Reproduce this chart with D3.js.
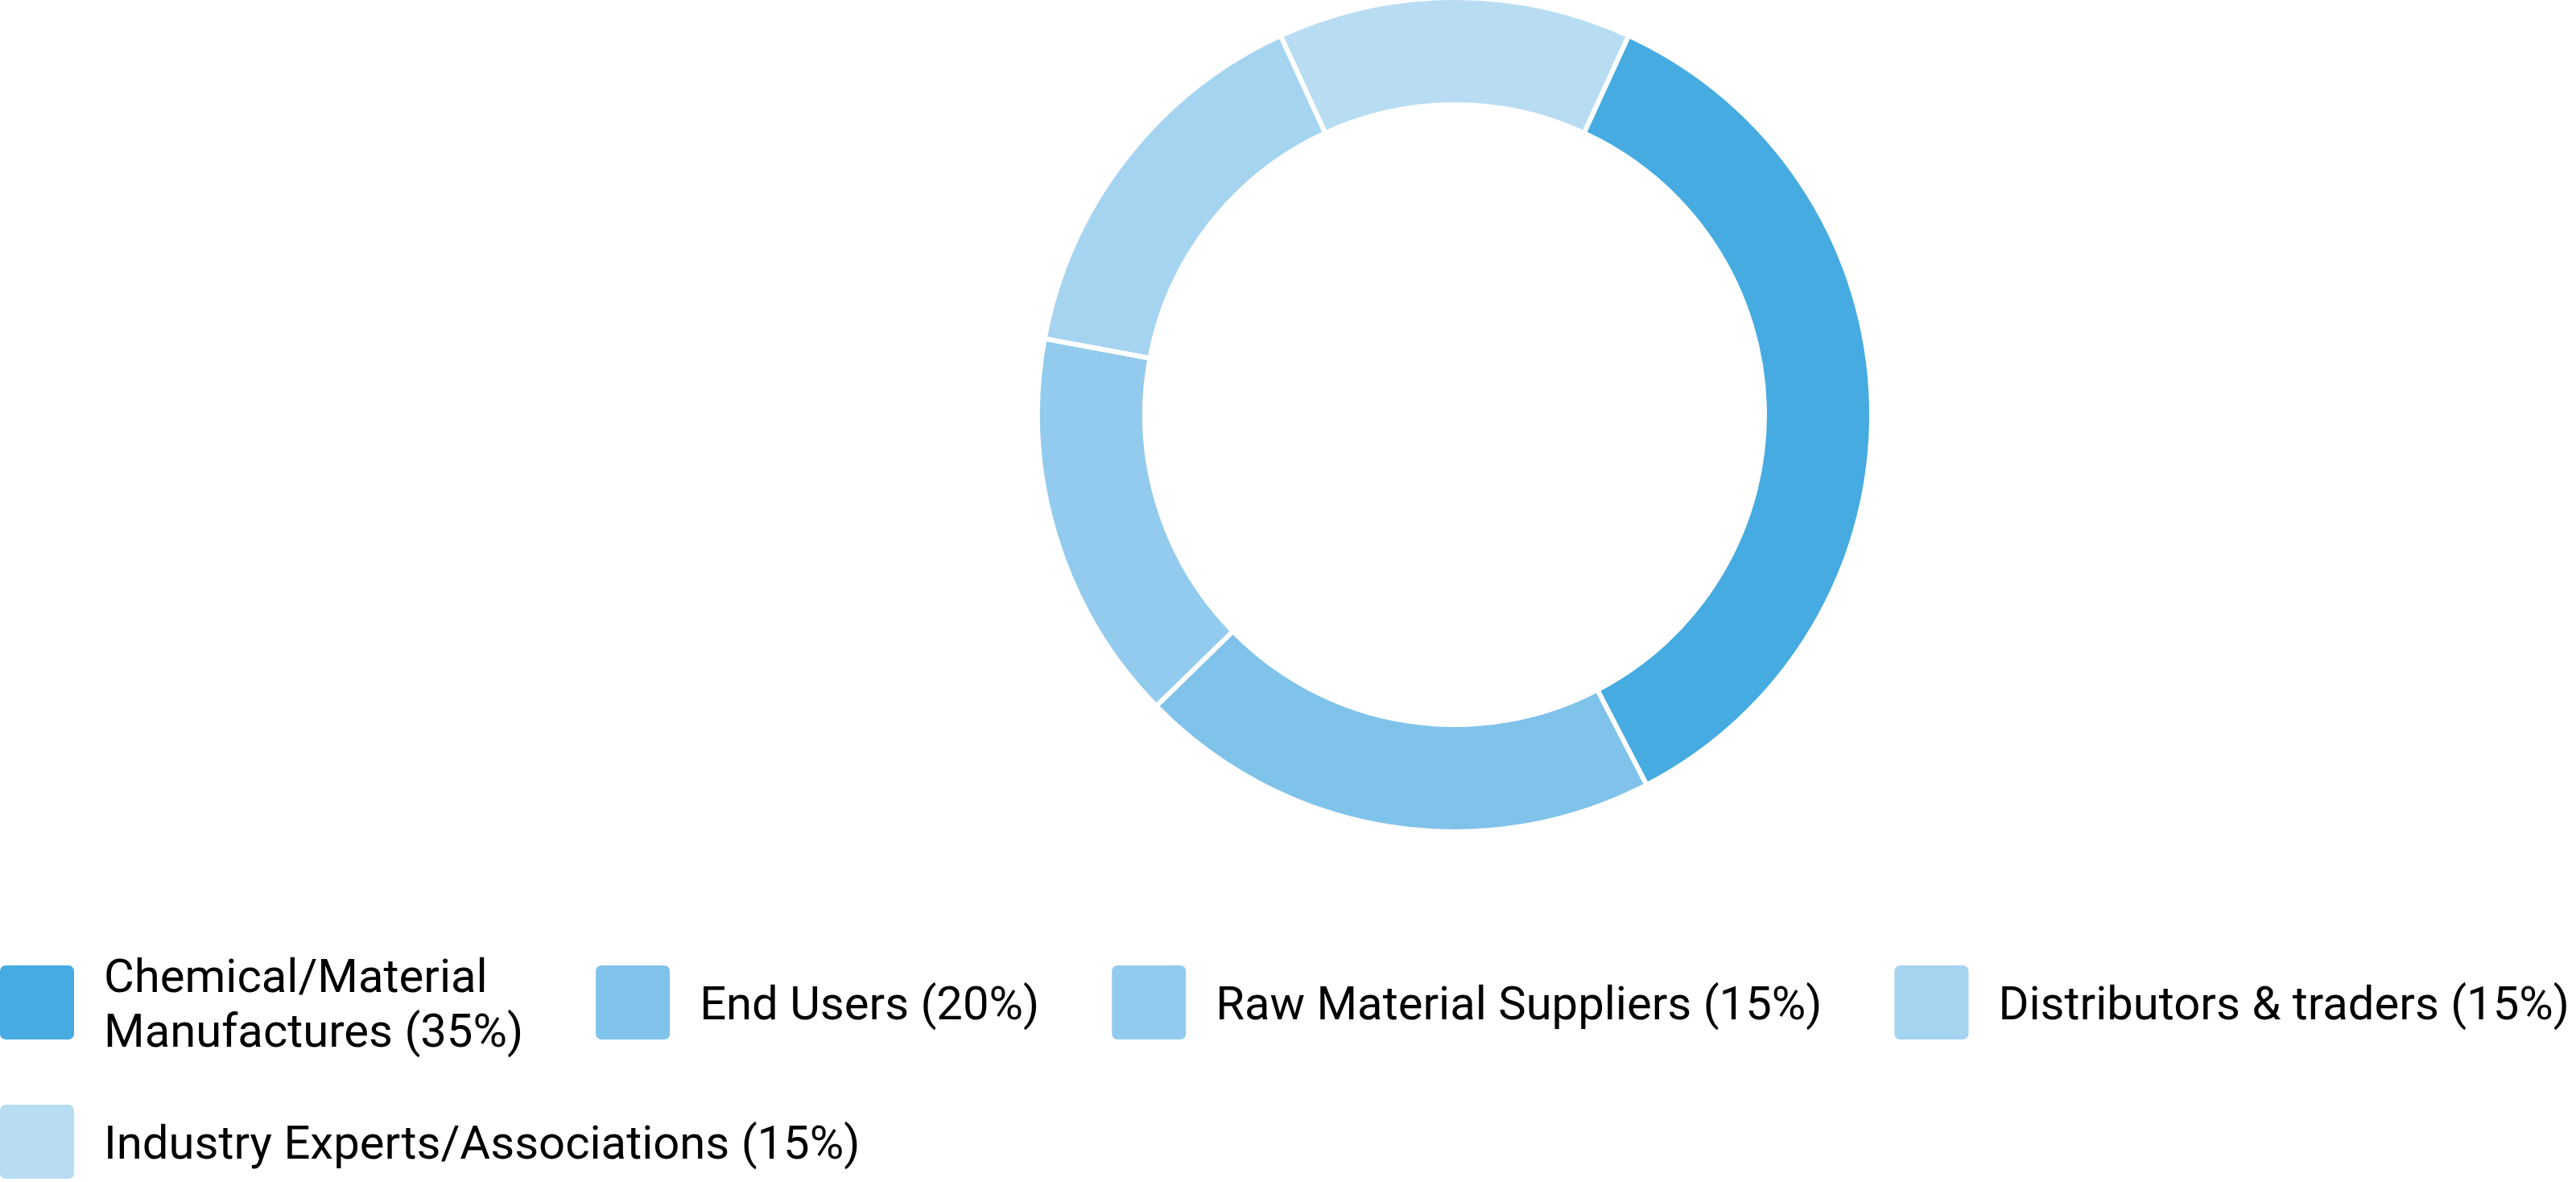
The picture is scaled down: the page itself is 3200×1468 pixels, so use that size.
<!DOCTYPE html>
<html>
  <head>
    <meta charset="utf-8">
    <script src="https://cdn.jsdelivr.net/npm/d3@7"></script>
    <style>
      body { margin: 0; background: #fff; }
      text { font-family: Roboto, "Noto Sans", sans-serif; fill: #000; }
    </style>
  </head>
  <body>
    <svg id="chart" width="3200" height="1468"></svg>

    <script>
      // shares as drawn in the ring (legend text keeps the printed labels)
      var categories = ["Chemical/Material Manufactures", "End Users", "Raw Material Suppliers",
                        "Distributors & traders", "Industry Experts/Associations"];
      var values = [35, 20, 15, 15, 13.5];
      var labels = ["Chemical/Material\nManufactures (35%)", "End Users (20%)", "Raw Material Suppliers (15%)",
                    "Distributors & traders (15%)", "Industry Experts/Associations (15%)"];
      var colors = ["#46abe1", "#7fc3eb", "#92cbed", "#a5d4f1", "#b8ddf3"];

      var svg = d3.select("#chart");
      var cx = 1807, cy = 515, rOut = 518, rIn = 385;

      var data = categories.map(function(c, i) {
        return { name: c, value: values[i], label: labels[i] };
      });

      var color = d3.scaleOrdinal().domain(categories).range(colors);

      // last slice sits centred on 12 o'clock
      var total = d3.sum(values);
      var offset = Math.PI * values[values.length - 1] / total;

      var pie = d3.pie()
        .sort(null)
        .value(function(d) { return d.value; })
        .startAngle(offset)
        .endAngle(offset + 2 * Math.PI);

      var arc = d3.arc().innerRadius(rIn).outerRadius(rOut);

      svg.append("g")
        .attr("transform", "translate(" + cx + "," + cy + ")")
        .selectAll("path")
        .data(pie(data))
        .join("path")
        .attr("d", arc)
        .attr("fill", function(d) { return color(d.data.name); })
        .attr("stroke", "#fff")
        .attr("stroke-width", 6);

      // legend
      var fs = 58, lineH = 68, sw = 92, swGap = 37, itemGap = 90;
      var rowGap = 59, legendTop = 1177, pageW = 3200;
      var legend = svg.append("g");

      var measure = legend.append("text").attr("font-size", fs);
      function width(s) { measure.text(s); return measure.node().getComputedTextLength(); }

      var items = data.map(function(d) {
        var lines = d.label.split("\n");
        var tw = d3.max(lines, width);
        return { d: d, lines: lines, w: sw + swGap + tw, h: Math.max(sw, lines.length * lineH) };
      });
      measure.remove();

      // flow into rows
      var rows = [], row = [], x = 0;
      items.forEach(function(it) {
        if (row.length && x + it.w > pageW) { rows.push(row); row = []; x = 0; }
        it.x = x; row.push(it); x += it.w + itemGap;
      });
      rows.push(row);

      var y = legendTop;
      rows.forEach(function(r) {
        var h = d3.max(r, function(it) { return it.h; });
        var mid = y + h / 2;
        r.forEach(function(it) {
          var g = legend.append("g");
          g.append("rect")
            .attr("x", it.x).attr("y", mid - sw / 2)
            .attr("width", sw).attr("height", sw)
            .attr("rx", 7)
            .attr("fill", color(it.d.name));
          var n = it.lines.length;
          g.append("text")
            .attr("font-size", fs)
            .selectAll("tspan")
            .data(it.lines)
            .join("tspan")
            .attr("x", it.x + sw + swGap)
            .attr("y", function(l, i) { return mid + (i - (n - 1) / 2) * lineH + 0.36 * fs; })
            .text(function(l) { return l; });
        });
        y += h + rowGap;
      });
    </script>
  </body>
</html>
